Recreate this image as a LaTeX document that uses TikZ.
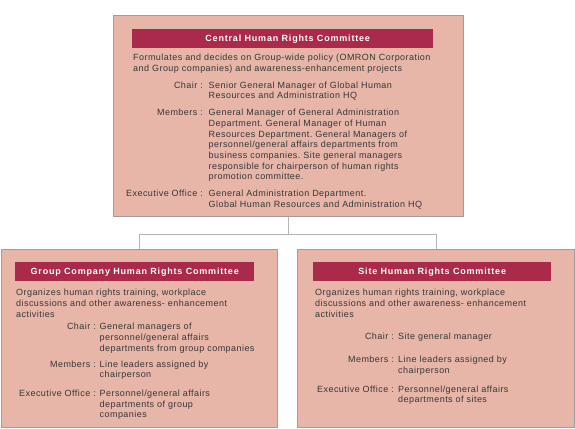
\documentclass[tikz,border=0pt]{standalone}
\usepackage{fontspec}
\setmainfont[LetterSpace=5]{Liberation Sans}
\newfontfamily\headfont[LetterSpace=9]{Liberation Sans}
\frenchspacing
\definecolor{panelfill}{HTML}{E8B6A9}
\definecolor{panelline}{HTML}{9E9E9E}
\definecolor{headred}{HTML}{A92A4A}
\definecolor{linkgray}{HTML}{B4B4B4}
\definecolor{bodytext}{HTML}{363636}
\tikzset{
	panel/.style={draw=panelline, line width=1.4pt, fill=panelfill, anchor=north west, inner sep=0pt},
	headbar/.style={fill=headred, text=white, font=\fontsize{9}{10.7}\headfont\bfseries, anchor=north west, inner sep=0pt, minimum height=19pt},
	body/.style={anchor=base west, inner sep=0pt, text width=#1, align=left, text=bodytext, font=\fontsize{9}{10.7}\selectfont},
	body/.default=320pt,
	role/.style={anchor=base east, inner sep=0pt, text=bodytext, font=\fontsize{9}{10.7}\selectfont},
	link/.style={draw=linkgray, line width=1.3pt}
}
\begin{document}
\begin{tikzpicture}[x=1pt,y=-1pt]
	\useasboundingbox (0,0) rectangle (575,428);
	% boxes
	\node[panel, minimum width=350pt, minimum height=201pt] (central) at (113,15) {};
	\node[panel, minimum width=276pt, minimum height=178pt] (group) at (1,249) {};
	\node[panel, minimum width=277pt, minimum height=178pt] (site) at (297,249) {};
	% connectors
	\draw[link] (central.south) -- ++(0,17) coordinate (split);
	\draw[link] (split) -| (group.north);
	\draw[link] (split) -| (site.north);
	% central
	\node[headbar, minimum width=301pt] (centralhead) at (132,29) {\hspace{10pt}Central Human Rights Committee};
	\node[body] (centraldesc) at (133,60.7) {Formulates and decides on Group-wide policy (OMRON Corporation\\and Group companies) and awareness-enhancement projects};
	\node[role] (centralchairlbl) at (203,88) {Chair :};
	\node[body=260pt] (centralchair) at (208.5,88) {Senior General Manager of Global Human\\Resources and Administration HQ};
	\node[role] (centralmemlbl) at (203,115.7) {Members :};
	\node[body=260pt] (centralmem) at (208.5,115.7) {General Manager of General Administration\\Department. General Manager of Human\\Resources Department. General Managers of\\personnel/general affairs departments from\\business companies. Site general managers\\responsible for chairperson of human rights\\promotion committee.};
	\node[role] (centralexeclbl) at (203,196.7) {Executive Office :};
	\node[body=260pt] (centralexec) at (208.5,196.7) {General Administration Department.\\Global Human Resources and Administration HQ};
	% group company
	\node[headbar, minimum width=239pt] (grouphead) at (15,262) {Group Company Human Rights Committee};
	\node[body=260pt] (groupdesc) at (16,295.7) {Organizes human rights training, workplace\\discussions and other awareness- enhancement\\activities};
	\node[role] (groupchairlbl) at (96,329.7) {Chair :};
	\node[body=176pt] (groupchair) at (99.5,329.7) {General managers of\\personnel/general affairs\\departments from group companies};
	\node[role] (groupmemlbl) at (96,367) {Members :};
	\node[body=176pt] (groupmem) at (99.5,367) {Line leaders assigned by\\chairperson};
	\node[role] (groupexeclbl) at (96,396.3) {Executive Office :};
	\node[body=176pt] (groupexec) at (99.5,396.3) {Personnel/general affairs\\departments of group\\companies};
	% site
	\node[headbar, minimum width=238pt] (sitehead) at (313,262) {Site Human Rights Committee};
	\node[body=255pt] (sitedesc) at (315,295.7) {Organizes human rights training, workplace\\discussions and other awareness- enhancement\\activities};
	\node[role] (sitechairlbl) at (394,339) {Chair :};
	\node[body=175pt] (sitechair) at (398,339) {Site general manager};
	\node[role] (sitememlbl) at (394,362.7) {Members :};
	\node[body=175pt] (sitemem) at (398,362.7) {Line leaders assigned by\\chairperson};
	\node[role] (siteexeclbl) at (394,392) {Executive Office :};
	\node[body=175pt] (siteexec) at (398,392) {Personnel/general affairs\\departments of sites};
\end{tikzpicture}
\end{document}
